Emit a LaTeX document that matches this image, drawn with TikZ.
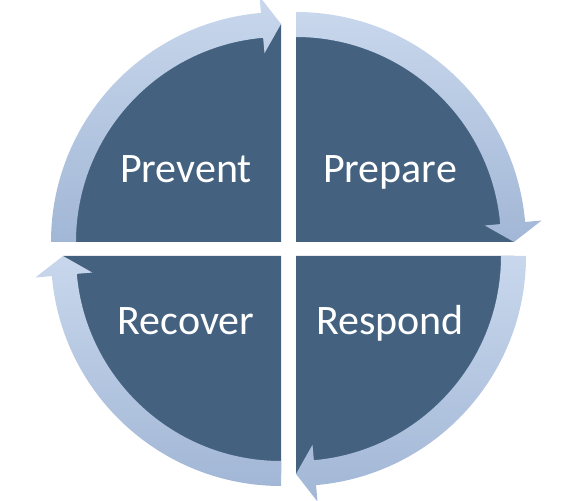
\documentclass[tikz,border=0pt]{standalone}
\usepackage{fontspec}
\setmainfont{Carlito}
\definecolor{quad}{RGB}{68,98,127}
\definecolor{ringtop}{RGB}{200,215,236}
\definecolor{ringbot}{RGB}{162,183,214}
\tikzset{
  quadfill/.style={fill=quad},
  ringarrow/.style={top color=ringtop, bottom color=ringbot, draw=none},
  lbl/.style={text=white, font=\fontsize{42}{46}\selectfont, anchor=base, inner sep=0pt}
}
% #1 center, #2 start angle, #3 end angle (tip), #4 head-base angle
\newcommand{\ringarrowpath}[4]{%
  \shade[ringarrow]
    ([shift={(#2:230)}]#1) arc[start angle=#2, end angle=#4, radius=230]
    -- ([shift={(#4:246.5)}]#1)
    -- ([shift={(#3:218)}]#1)
    -- ([shift={(#4:189.5)}]#1)
    -- ([shift={(#4:205)}]#1) arc[start angle=#4, end angle=#2, radius=205]
    -- cycle;}
\begin{document}
\begin{tikzpicture}[x=1pt,y=1pt]
\useasboundingbox (0,0) rectangle (569,500);
\clip (0,0) rectangle (569,500);
\coordinate (TL) at (281,258);
\coordinate (TR) at (296,258);
\coordinate (BL) at (281,244);
\coordinate (BR) at (296,244);
% dark quadrants
\fill[quadfill] (TL) -- ([shift={(180:218)}]TL) arc[start angle=180, end angle=90, radius=218] -- cycle;
\fill[quadfill] (TR) -- ([shift={(90:218)}]TR) arc[start angle=90, end angle=0, radius=218] -- cycle;
\fill[quadfill] (BR) -- ([shift={(0:218)}]BR) arc[start angle=0, end angle=-90, radius=218] -- cycle;
\fill[quadfill] (BL) -- ([shift={(-90:218)}]BL) arc[start angle=-90, end angle=-180, radius=218] -- cycle;
% ring arrows
\ringarrowpath{TL}{180}{90}{95}
\ringarrowpath{TR}{90}{0}{5}
\ringarrowpath{BR}{0}{-90}{-85}
\ringarrowpath{BL}{-90}{-180}{-175}
% labels
\node[lbl] (prevent) at (186,317) {Prevent};
\node[lbl] (prepare) at (390,317) {Prepare};
\node[lbl] (recover) at (186,165) {Recover};
\node[lbl] (respond) at (390,165) {Respond};
\end{tikzpicture}
\end{document}
